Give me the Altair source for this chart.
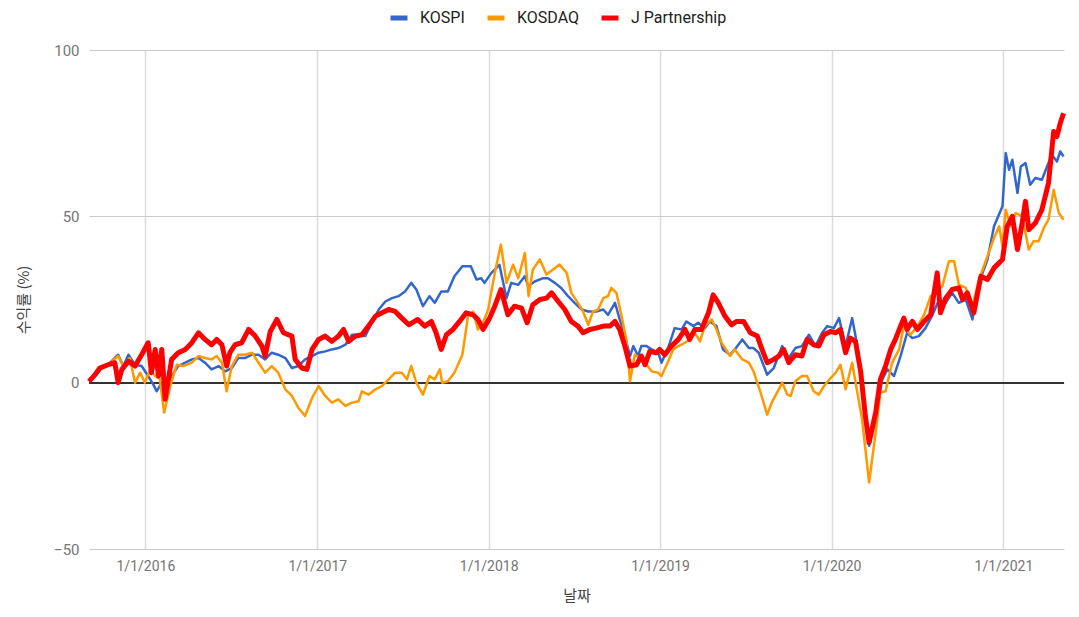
import altair as alt
import pandas as pd

series_names = ["KOSPI", "KOSDAQ", "J Partnership"]
series_colors = ["#3366cc", "#ff9900", "#ff0000"]

kospi_dates = [
    "2015-09-03", "2015-09-16", "2015-09-30", "2015-10-14", "2015-11-04", "2015-11-15", "2015-11-26",
    "2015-12-10", "2015-12-24", "2016-01-07", "2016-01-18", "2016-01-25", "2016-02-05", "2016-02-15",
    "2016-02-26", "2016-03-11", "2016-03-26", "2016-04-09", "2016-04-23", "2016-05-07", "2016-05-21",
    "2016-06-05", "2016-06-19", "2016-07-03", "2016-07-17", "2016-07-31", "2016-08-15", "2016-08-29",
    "2016-09-12", "2016-09-26", "2016-10-10", "2016-10-25", "2016-11-08", "2016-11-22", "2016-12-06",
    "2016-12-21", "2017-01-04", "2017-01-18", "2017-02-01", "2017-02-15", "2017-03-02", "2017-03-16",
    "2017-03-30", "2017-04-13", "2017-04-27", "2017-05-12", "2017-05-26", "2017-06-09", "2017-06-23",
    "2017-07-07", "2017-07-20", "2017-07-31", "2017-08-14", "2017-08-28", "2017-09-08", "2017-09-22",
    "2017-10-06", "2017-10-20", "2017-11-06", "2017-11-24", "2017-12-06", "2017-12-16", "2017-12-23",
    "2018-01-07", "2018-01-24", "2018-02-08", "2018-02-18", "2018-03-05", "2018-03-19", "2018-03-26",
    "2018-04-09", "2018-04-27", "2018-05-07", "2018-05-22", "2018-06-05", "2018-06-19", "2018-07-03",
    "2018-07-18", "2018-08-01", "2018-08-18", "2018-09-02", "2018-09-12", "2018-09-27", "2018-10-07",
    "2018-10-18", "2018-10-29", "2018-11-05", "2018-11-15", "2018-11-22", "2018-12-03", "2018-12-14",
    "2018-12-28", "2019-01-04", "2019-01-18", "2019-02-01", "2019-02-16", "2019-02-26", "2019-03-13",
    "2019-03-23", "2019-04-06", "2019-04-17", "2019-05-01", "2019-05-15", "2019-05-30", "2019-06-09",
    "2019-06-25", "2019-07-09", "2019-07-19", "2019-07-30", "2019-08-17", "2019-08-31", "2019-09-18",
    "2019-10-02", "2019-10-16", "2019-10-30", "2019-11-14", "2019-11-28", "2019-12-12", "2019-12-23",
    "2020-01-06", "2020-01-17", "2020-01-31", "2020-02-14", "2020-02-25", "2020-03-06", "2020-03-21",
    "2020-04-04", "2020-04-18", "2020-04-29", "2020-05-13", "2020-05-27", "2020-06-10", "2020-06-21",
    "2020-07-05", "2020-07-19", "2020-08-03", "2020-08-17", "2020-08-31", "2020-09-14", "2020-09-28",
    "2020-10-13", "2020-10-27", "2020-11-10", "2020-11-28", "2020-12-12", "2020-12-30", "2021-01-06",
    "2021-01-13", "2021-01-20", "2021-01-31", "2021-02-07", "2021-02-17", "2021-02-27", "2021-03-10",
    "2021-03-24", "2021-04-04", "2021-04-14", "2021-04-25", "2021-05-02", "2021-05-09",
]
kospi_vals = [
    0.4, 2, 4.4, 5.4, 8.4, 5, 8.4,
    5.4, 5, 2, -0.6, -2.6, 0, -1,
    2, 5, 6, 7, 7.4, 6, 4,
    5, 3.4, 4.4, 7.4, 7.4, 8.4, 8.4,
    7, 9, 8.4, 7.4, 4.4, 5, 7,
    8, 9, 9.4, 10, 10.4, 11.4, 14.4,
    14.4, 14, 18, 22, 24.4, 25.4, 26,
    27.4, 30, 28, 23, 26, 24, 27.4,
    27.4, 32, 35, 35, 31, 31.4, 30,
    33, 35.4, 25.4, 30, 29.4, 32, 29,
    30.4, 31.4, 31.4, 30, 28.4, 26, 24,
    22, 21.4, 21.4, 22, 20.4, 24, 19,
    14, 8, 11, 8, 11, 11, 10,
    9, 6, 10.4, 16.4, 16, 18.4, 17,
    18, 16.4, 18.4, 17, 10, 8.4, 10,
    13, 10.4, 10.4, 9, 2.4, 4.4, 11,
    7.4, 10.4, 11, 14.4, 11, 15, 17,
    16.4, 19.4, 11, 19.4, 11, 0, -19,
    -10, 1, 4, 2, 8, 15, 13.4,
    14, 16.4, 20.4, 25, 24, 27, 24,
    25, 19, 30, 37, 47, 53, 69,
    64, 67, 57, 65, 66, 59.5, 61.5,
    61, 65, 68.5, 66.5, 69.5, 68,
]

kosdaq_dates = [
    "2015-09-03", "2015-09-16", "2015-09-30", "2015-10-14", "2015-11-04", "2015-11-15", "2015-11-29",
    "2015-12-10", "2015-12-21", "2015-12-31", "2016-01-11", "2016-01-22", "2016-02-01", "2016-02-10",
    "2016-02-23", "2016-03-08", "2016-03-22", "2016-04-09", "2016-04-23", "2016-05-07", "2016-05-21",
    "2016-06-01", "2016-06-12", "2016-06-22", "2016-07-03", "2016-07-17", "2016-07-31", "2016-08-15",
    "2016-08-29", "2016-09-12", "2016-09-26", "2016-10-10", "2016-10-25", "2016-11-08", "2016-11-22",
    "2016-12-06", "2016-12-21", "2017-01-04", "2017-01-18", "2017-02-01", "2017-02-15", "2017-03-02",
    "2017-03-16", "2017-03-30", "2017-04-06", "2017-04-20", "2017-05-05", "2017-05-19", "2017-06-02",
    "2017-06-16", "2017-06-30", "2017-07-11", "2017-07-20", "2017-07-31", "2017-08-14", "2017-08-28",
    "2017-09-08", "2017-09-19", "2017-09-24", "2017-10-06", "2017-10-20", "2017-11-06", "2017-11-18",
    "2017-11-29", "2017-12-09", "2017-12-20", "2017-12-31", "2018-01-14", "2018-01-27", "2018-02-08",
    "2018-02-22", "2018-03-05", "2018-03-19", "2018-03-27", "2018-04-05", "2018-04-20", "2018-05-04",
    "2018-05-18", "2018-06-01", "2018-06-16", "2018-06-26", "2018-07-10", "2018-07-21", "2018-08-01",
    "2018-08-11", "2018-08-22", "2018-09-02", "2018-09-12", "2018-09-19", "2018-09-30", "2018-10-11",
    "2018-10-21", "2018-10-29", "2018-11-08", "2018-11-19", "2018-11-30", "2018-12-14", "2018-12-28",
    "2019-01-04", "2019-01-15", "2019-01-29", "2019-02-09", "2019-02-23", "2019-03-05", "2019-03-16",
    "2019-03-27", "2019-04-06", "2019-04-21", "2019-05-01", "2019-05-12", "2019-05-30", "2019-06-09",
    "2019-06-25", "2019-07-09", "2019-07-19", "2019-08-03", "2019-08-17", "2019-08-28", "2019-09-07",
    "2019-09-18", "2019-09-29", "2019-10-06", "2019-10-16", "2019-10-30", "2019-11-10", "2019-11-24",
    "2019-12-05", "2019-12-16", "2019-12-30", "2020-01-10", "2020-01-20", "2020-01-31", "2020-02-14",
    "2020-02-25", "2020-03-06", "2020-03-21", "2020-04-04", "2020-04-14", "2020-04-25", "2020-05-09",
    "2020-05-24", "2020-06-03", "2020-06-17", "2020-07-02", "2020-07-16", "2020-07-30", "2020-08-10",
    "2020-08-24", "2020-09-07", "2020-09-18", "2020-09-28", "2020-10-13", "2020-10-27", "2020-11-10",
    "2020-11-28", "2020-12-12", "2020-12-23", "2020-12-30", "2021-01-06", "2021-01-16", "2021-01-27",
    "2021-02-10", "2021-02-24", "2021-03-06", "2021-03-17", "2021-03-28", "2021-04-07", "2021-04-18",
    "2021-04-29", "2021-05-09",
]
kosdaq_vals = [
    0.4, 2, 4.4, 5.4, 8, 5, 7.4,
    0, 3, 0, 4, 2, 1, -9,
    -1, 5.4, 5, 6, 8, 7.4, 7,
    8, 6, -2.6, 5, 8.4, 8.4, 9,
    6, 3, 5, 3, -2, -4, -7.6,
    -10, -4.6, -1, -4, -6, -5, -7,
    -6, -5.6, -2.6, -3.6, -2, -1, 1,
    3, 3, 1, 5, 0, -3.6, 2,
    1, 4, 0, 0.4, 3, 8.4, 20,
    21.4, 16, 18, 22, 33, 41.5, 30,
    35.5, 31.4, 39, 26, 34, 37, 32.5,
    34, 35.5, 33, 27, 24, 21.4, 17.4,
    21.4, 22, 25.4, 26, 28.5, 27, 20,
    13, 0.4, 8.4, 7.4, 6, 3.4, 3,
    2, 5.4, 10, 11, 12, 13, 15,
    12.4, 17, 19, 16, 12, 8, 10,
    7, 6, 3.4, -3, -9.6, -5.6, -3,
    0, -3.6, -4, 0.4, 2, 2, -2.6,
    -3.6, -1, 1.4, 3, 5.4, -2, 6,
    -3, -11, -30, -15, -3, -2.6, 6,
    10, 17, 14.4, 17, 20.4, 26, 27,
    29, 36.5, 36.5, 29.5, 28.5, 23, 31,
    38, 43.5, 47, 41, 52, 47, 51,
    50, 40, 42.5, 42.5, 46.5, 49, 58,
    51, 49,
]

jp_dates = [
    "2015-09-03", "2015-09-16", "2015-09-26", "2015-10-14", "2015-10-28", "2015-11-04", "2015-11-12",
    "2015-11-26", "2015-12-10", "2015-12-24", "2016-01-07", "2016-01-14", "2016-01-22", "2016-01-29",
    "2016-02-05", "2016-02-12", "2016-02-26", "2016-03-11", "2016-03-26", "2016-04-09", "2016-04-23",
    "2016-05-07", "2016-05-21", "2016-06-01", "2016-06-12", "2016-06-22", "2016-06-29", "2016-07-10",
    "2016-07-24", "2016-08-08", "2016-08-22", "2016-09-05", "2016-09-12", "2016-09-23", "2016-10-07",
    "2016-10-21", "2016-11-08", "2016-11-15", "2016-11-29", "2016-12-10", "2016-12-21", "2017-01-04",
    "2017-01-18", "2017-02-01", "2017-02-15", "2017-02-26", "2017-03-09", "2017-03-23", "2017-04-06",
    "2017-04-20", "2017-05-05", "2017-05-19", "2017-06-02", "2017-06-16", "2017-06-30", "2017-07-15",
    "2017-08-03", "2017-08-18", "2017-09-01", "2017-09-11", "2017-09-22", "2017-10-03", "2017-10-17",
    "2017-10-31", "2017-11-14", "2017-11-29", "2017-12-09", "2017-12-20", "2018-01-03", "2018-01-14",
    "2018-01-27", "2018-02-11", "2018-02-25", "2018-03-12", "2018-03-24", "2018-04-05", "2018-04-20",
    "2018-05-04", "2018-05-15", "2018-05-29", "2018-06-12", "2018-06-26", "2018-07-10", "2018-07-21",
    "2018-08-04", "2018-08-18", "2018-09-02", "2018-09-16", "2018-09-27", "2018-10-07", "2018-10-18",
    "2018-10-29", "2018-11-12", "2018-11-22", "2018-11-30", "2018-12-10", "2018-12-24", "2018-12-31",
    "2019-01-11", "2019-01-25", "2019-02-09", "2019-02-23", "2019-03-05", "2019-03-16", "2019-03-30",
    "2019-04-14", "2019-04-24", "2019-05-05", "2019-05-19", "2019-06-02", "2019-06-13", "2019-06-28",
    "2019-07-12", "2019-07-27", "2019-08-06", "2019-08-17", "2019-08-31", "2019-09-11", "2019-09-21",
    "2019-10-02", "2019-10-16", "2019-10-30", "2019-11-10", "2019-11-24", "2019-12-05", "2019-12-16",
    "2019-12-30", "2020-01-10", "2020-01-20", "2020-01-31", "2020-02-10", "2020-02-21", "2020-03-03",
    "2020-03-13", "2020-03-21", "2020-04-04", "2020-04-14", "2020-04-25", "2020-05-06", "2020-05-16",
    "2020-05-27", "2020-06-03", "2020-06-10", "2020-06-21", "2020-07-02", "2020-07-16", "2020-07-30",
    "2020-08-13", "2020-08-20", "2020-08-31", "2020-09-14", "2020-09-28", "2020-10-06", "2020-10-16",
    "2020-10-30", "2020-11-14", "2020-11-28", "2020-12-12", "2020-12-30", "2021-01-09", "2021-01-20",
    "2021-01-31", "2021-02-10", "2021-02-17", "2021-02-24", "2021-03-10", "2021-03-24", "2021-04-07",
    "2021-04-18", "2021-04-25", "2021-05-02", "2021-05-09",
]
jp_vals = [
    0.4, 2.4, 4.4, 5.4, 6, 0, 4,
    6.4, 5, 8.4, 12, 3, 10, 2,
    10, -5, 7, 9, 10, 12, 15,
    13, 11.4, 13, 11.4, 5, 9, 11.4,
    12, 16, 14, 11, 8, 15.4, 19,
    15, 14, 7, 4.4, 4, 10, 13,
    14, 12.4, 14, 16, 12.4, 14, 14.4,
    17, 20, 21, 22, 21.4, 19.4, 17.4,
    19, 17, 18.4, 15, 10, 14.4, 16,
    18.4, 21, 20.4, 19, 16, 19.4, 23,
    28, 20.4, 23, 22.4, 18, 23.4, 25,
    25.4, 27, 24.4, 22, 18.4, 17, 15,
    16, 16.4, 17, 17, 18.4, 16, 11,
    5, 5.4, 8, 5.4, 9.4, 9, 10,
    8.4, 11, 13, 16, 13, 16, 16,
    21, 26.4, 24, 20, 17.4, 18.4, 18.4,
    15, 14, 10, 6, 7, 8, 10,
    6, 8.4, 8, 13, 11.4, 11, 14.4,
    15.4, 15, 16, 9, 13.4, 12.4, 3.4,
    -10, -18, -9, 1, 5, 10, 13,
    17, 19.4, 16, 18.4, 16, 18.4, 20.4,
    33, 21, 25.4, 28, 28.5, 25, 27,
    21, 32, 31, 34.5, 37, 47, 50,
    40, 48, 54.5, 46, 48, 52, 60,
    75.5, 74, 78, 81,
]

y_ticks = [-50, 0, 50, 100]
x_tick_years = [2016, 2017, 2018, 2019, 2020, 2021]

frames = []
for name, dates, vals in [
    ("KOSPI", kospi_dates, kospi_vals),
    ("KOSDAQ", kosdaq_dates, kosdaq_vals),
    ("J Partnership", jp_dates, jp_vals),
]:
    frames.append(pd.DataFrame({"date": dates, "value": vals, "series": name}))
data = pd.concat(frames, ignore_index=True)

font = "Roboto"
kfont = "Noto Sans CJK KR"

x_enc = alt.X(
    "date:T",
    scale=alt.Scale(
        type="utc",
        domain=[
            alt.DateTime(year=2015, month=9, date=3, utc=True),
            alt.DateTime(year=2021, month=5, date=10, utc=True),
        ],
    ),
    axis=alt.Axis(
        values=[alt.DateTime(year=y, month=1, date=1, utc=True) for y in x_tick_years],
        format="%-m/%-d/%Y",
        title="날짜",
        grid=True,
        gridColor="#dcdcdc",
        gridWidth=1.5,
        domain=False,
        ticks=False,
        labelPadding=10,
        labelFont=font,
        labelFontSize=14,
        labelColor="#757575",
        titleFont=kfont,
        titleFontSize=15,
        titleFontWeight="normal",
        titleColor="#444444",
        titlePadding=15,
    ),
)

y_enc = alt.Y(
    "value:Q",
    scale=alt.Scale(domain=[-50, 100], nice=False, zero=False),
    axis=alt.Axis(
        values=y_ticks,
        title="수익률 (%)",
        grid=True,
        gridColor="#cccccc",
        domain=False,
        ticks=False,
        labelPadding=10,
        labelFont=font,
        labelFontSize=15,
        labelColor="#757575",
        titleFont=kfont,
        titleFontSize=15,
        titleFontWeight="normal",
        titleColor="#444444",
        titlePadding=22,
    ),
)

color_enc = alt.Color(
    "series:N",
    scale=alt.Scale(domain=series_names, range=series_colors),
    legend=alt.Legend(
        title=None,
        orient="none",
        legendX=299,
        legendY=-43,
        direction="horizontal",
        symbolType="stroke",
        symbolStrokeWidth=5,
        symbolSize=289,
        labelFont=font,
        labelFontSize=16,
        labelColor="#222222",
        labelOffset=10,
        columnPadding=12,
    ),
)

base = alt.Chart(data)

def series_layer(name, width):
    return (
        base.transform_filter(alt.datum.series == name)
        .mark_line(strokeWidth=width, strokeJoin="round")
        .encode(x=x_enc, y=y_enc, color=color_enc)
    )

zero_rule = base.mark_rule(color="#333333", strokeWidth=1).encode(y=alt.datum(0))

chart = (
    alt.layer(
        zero_rule,
        series_layer("KOSPI", 2.5),
        series_layer("KOSDAQ", 2.5),
        series_layer("J Partnership", 5),
    )
    .properties(
        width=975,
        height=499,
        background="white",
        autosize=alt.AutoSizeParams(type="none"),
        padding={"left": 81, "top": 42, "right": 7, "bottom": 60},
    )
    .configure_view(stroke=None, strokeWidth=0)
)

chart.save("out.html", embed_options={"renderer": "svg", "actions": False})
